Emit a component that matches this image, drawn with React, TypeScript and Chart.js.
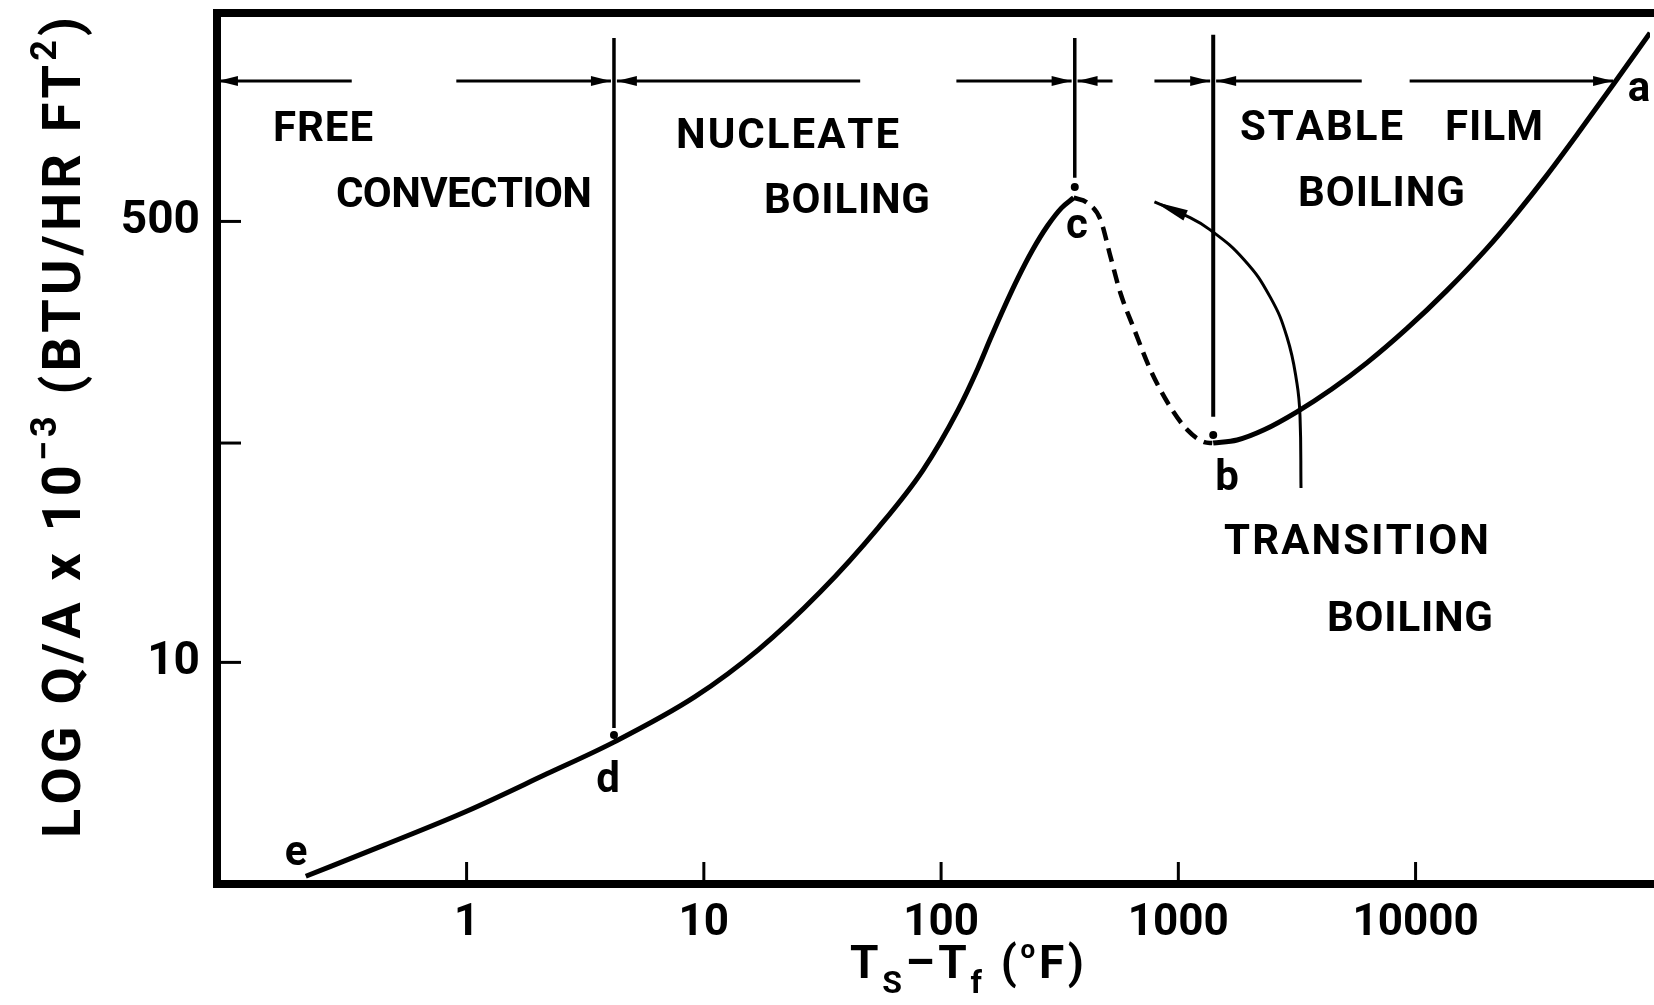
import React, { useEffect, useRef } from "react";
import { Chart, registerables } from "chart.js";

Chart.register(...registerables);

const FONT = "Roboto";

// Log axes: surface-to-fluid temperature difference and heat flux
const X_MIN = 0.0887;
const X_MAX = 97300;
const Y_MIN = 1.4;
const Y_MAX = 3177;

const X_TICKS = [1, 10, 100, 1000, 10000];
const X_TICK_LABELS = ["1", "10", "100", "1000", "10000"];
const Y_TICKS = [10, 70, 500];
const Y_TICK_LABELS = ["10", "", "500"];

// e -> d -> c : free convection and nucleate boiling
const NUCLEATE_X = [0.21, 0.451, 1.0, 2.18, 4.18, 9.15, 17.0, 31.0, 54.3, 83.9, 118, 143, 162, 184, 211, 243, 281, 322, 362];
const NUCLEATE_Y = [1.5, 1.98, 2.67, 3.72, 4.93, 7.36, 11.2, 18.7, 33.0, 55.1, 94.0, 136, 178, 232, 303, 388, 481, 564, 617];

// c -> b : unstable transition boiling
const TRANSITION_X = [362, 414, 470, 518, 570, 653, 763, 925, 1091, 1286, 1390];
const TRANSITION_Y = [617, 589, 507, 365, 265, 191, 134, 96.4, 78.7, 70.6, 70.0];

// b -> a : stable film boiling
const FILM_X = [1403, 1770, 2300, 3162, 4440, 6230, 9180, 13500, 19900, 26600, 35600, 48900, 68000, 97300];
const FILM_Y = [70.0, 71.9, 78.7, 92.3, 113, 142.5, 193, 270, 392, 535, 749, 1107, 1680, 2664];

// curved pointer from the TRANSITION BOILING label (first point is the arrow tip)
const ARC_X = [793, 1060, 1362, 1893, 2437, 2872, 3162, 3258, 3289];
const ARC_Y = [595, 530, 464, 356, 256, 179, 119, 88.3, 47.0];

// regime boundaries at d, c and b
const BOUNDARY_X = [4.18, 366, 1403];
const BOUNDARY_TOP = [2547, 2547, 2620];
const BOUNDARY_BOTTOM = [5.59, 736, 88.3];
const BOUNDARY_DOT_Y = [5.25, 679, 75.2];

// regime span arrows (arrow head at the "to" end)
const ARROW_Y = 1738;
const ARROW_FROM = [0.328, 0.905, 45.6, 116, 528, 793, 5930, 9440];
const ARROW_TO = [0.0895, 4.06, 4.3, 355, 376, 1362, 1443, 68000];

type Run = { text: string; size: number; shift: number };

function drawRuns(
  ctx: CanvasRenderingContext2D,
  runs: Run[],
  x: number,
  baseline: number,
  width: number | null,
  align: "left" | "center"
) {
  const items: { ch: string; size: number; shift: number; w: number }[] = [];
  for (const r of runs) {
    ctx.font = `bold ${r.size}px ${FONT}`;
    for (const ch of r.text) {
      items.push({ ch, size: r.size, shift: r.shift, w: ctx.measureText(ch).width });
    }
  }
  const natural = items.reduce((s, it) => s + it.w, 0);
  const total = width ?? natural;
  const gap = items.length > 1 ? (total - natural) / (items.length - 1) : 0;
  let cx = align === "center" ? x - total / 2 : x;
  ctx.textAlign = "left";
  ctx.textBaseline = "alphabetic";
  for (const it of items) {
    ctx.font = `bold ${it.size}px ${FONT}`;
    ctx.fillText(it.ch, cx, baseline + it.shift);
    cx += it.w + gap;
  }
}

function arrowHead(
  ctx: CanvasRenderingContext2D,
  tipX: number,
  tipY: number,
  fromX: number,
  fromY: number,
  len: number,
  half: number
) {
  const dx = tipX - fromX;
  const dy = tipY - fromY;
  const d = Math.hypot(dx, dy) || 1;
  const ux = dx / d;
  const uy = dy / d;
  const bx = tipX - ux * len;
  const by = tipY - uy * len;
  ctx.beginPath();
  ctx.moveTo(tipX, tipY);
  ctx.lineTo(bx - uy * half, by + ux * half);
  ctx.lineTo(bx + uy * half, by - ux * half);
  ctx.closePath();
  ctx.fill();
}

// region captions: text, left x, baseline, fitted width
const REGION_LABELS: [string, number, number, number][] = [
  ["FREE", 273, 141, 100],
  ["CONVECTION", 336, 207, 256],
  ["NUCLEATE", 676, 148, 223],
  ["BOILING", 764, 213, 166],
  ["STABLE", 1240, 140, 163],
  ["FILM", 1445, 140, 98],
  ["BOILING", 1298, 206, 167],
  ["TRANSITION", 1224, 554, 265],
  ["BOILING", 1327, 631, 166],
];

// point letters: text, centre x, baseline
const POINT_LABELS: [string, number, number][] = [
  ["e", 296, 865],
  ["d", 608, 792],
  ["c", 1077, 238],
  ["b", 1227, 490],
  ["a", 1639, 101],
];

const decorations = {
  id: "boilingDecorations",
  afterDatasetsDraw(chart: any) {
    const ctx: CanvasRenderingContext2D = chart.ctx;
    const xs = chart.scales.x;
    const ys = chart.scales.y;
    const { left, top, bottom, right } = chart.chartArea;
    ctx.save();
    ctx.fillStyle = "#000";
    ctx.strokeStyle = "#000";

    // arrow heads of the regime spans
    const ay = ys.getPixelForValue(ARROW_Y);
    ARROW_TO.forEach((to, i) => {
      const tx = xs.getPixelForValue(to);
      const fx = xs.getPixelForValue(ARROW_FROM[i]);
      arrowHead(ctx, tx, ay, fx, ay, 20, 5);
    });

    // arrow head on the transition pointer
    arrowHead(
      ctx,
      xs.getPixelForValue(ARC_X[0]),
      ys.getPixelForValue(ARC_Y[0]),
      xs.getPixelForValue(ARC_X[1]),
      ys.getPixelForValue(ARC_Y[1]),
      34,
      5.5
    );

    // captions
    for (const [t, x, b, w] of REGION_LABELS) {
      drawRuns(ctx, [{ text: t, size: 42, shift: 0 }], x, b, w, "left");
    }
    ctx.font = `bold 42px ${FONT}`;
    ctx.textAlign = "center";
    for (const [t, x, b] of POINT_LABELS) {
      ctx.fillText(t, x, b);
    }

    // inward tick marks
    ctx.lineWidth = 3;
    ctx.lineCap = "butt";
    for (const v of X_TICKS) {
      const px = xs.getPixelForValue(v);
      ctx.beginPath();
      ctx.moveTo(px, bottom);
      ctx.lineTo(px, bottom - 22);
      ctx.stroke();
    }
    for (const v of Y_TICKS) {
      const py = ys.getPixelForValue(v);
      ctx.beginPath();
      ctx.moveTo(left, py);
      ctx.lineTo(left + 24, py);
      ctx.stroke();
    }

    // heavy frame (open on the right, running off the page)
    ctx.lineWidth = 8;
    ctx.lineJoin = "miter";
    ctx.beginPath();
    ctx.moveTo(right + 20, top);
    ctx.lineTo(left, top);
    ctx.lineTo(left, bottom);
    ctx.lineTo(right + 20, bottom);
    ctx.stroke();

    // y axis title
    ctx.save();
    ctx.translate(80, 427.5);
    ctx.rotate(-Math.PI / 2);
    drawRuns(
      ctx,
      [
        { text: "LOG Q/A x 10", size: 54, shift: 0 },
        { text: "\u22123", size: 36, shift: -24 },
        { text: " (BTU/HR FT", size: 54, shift: 0 },
        { text: "2", size: 36, shift: -24 },
        { text: ")", size: 54, shift: 0 },
      ],
      0,
      0,
      821,
      "center"
    );
    ctx.restore();

    // x axis title
    drawRuns(
      ctx,
      [
        { text: "T", size: 46, shift: 0 },
        { text: "S", size: 32, shift: 15 },
        { text: "\u2013", size: 46, shift: 0 },
        { text: "T", size: 46, shift: 0 },
        { text: "f", size: 32, shift: 15 },
        { text: " (", size: 46, shift: 0 },
        { text: "o", size: 26, shift: -20 },
        { text: "F)", size: 46, shift: 0 },
      ],
      967,
      978,
      234,
      "center"
    );

    ctx.restore();
  },
};

const pts = (xs: number[], ys: number[]) => xs.map((x, i) => ({ x, y: ys[i] }));

export default function App() {
  const ref = useRef<HTMLCanvasElement | null>(null);

  useEffect(() => {
    if (!ref.current) return;
    const line = {
      showLine: true,
      pointRadius: 0,
      borderColor: "#000",
      backgroundColor: "#000",
      fill: false,
    };
    const datasets: any[] = [
      { ...line, data: pts(NUCLEATE_X, NUCLEATE_Y), borderWidth: 5, cubicInterpolationMode: "monotone" },
      {
        ...line,
        data: pts(TRANSITION_X, TRANSITION_Y),
        borderWidth: 4.5,
        borderDash: [14, 8],
        cubicInterpolationMode: "monotone",
      },
      { ...line, data: pts(FILM_X, FILM_Y), borderWidth: 5, cubicInterpolationMode: "monotone" },
      { ...line, data: pts(ARC_X, ARC_Y), borderWidth: 3, tension: 0.45 },
      ...BOUNDARY_X.map((x, i) => ({
        ...line,
        data: [
          { x, y: BOUNDARY_TOP[i] },
          { x, y: BOUNDARY_BOTTOM[i] },
        ],
        borderWidth: i === 2 ? 4 : 3.5,
        tension: 0,
      })),
      ...ARROW_FROM.map((f, i) => ({
        ...line,
        data: [
          { x: f, y: ARROW_Y },
          { x: ARROW_TO[i], y: ARROW_Y },
        ],
        borderWidth: 3,
        tension: 0,
      })),
      {
        data: BOUNDARY_X.map((x, i) => ({ x, y: BOUNDARY_DOT_Y[i] })),
        showLine: false,
        pointRadius: 4,
        pointBorderWidth: 0,
        pointBackgroundColor: "#000",
        pointBorderColor: "#000",
      },
    ];

    const chart = new Chart(ref.current, {
      type: "scatter",
      data: { datasets },
      options: {
        animation: false,
        responsive: false,
        devicePixelRatio: 1,
        events: [],
        layout: { padding: { top: 13, right: 0, left: 0, bottom: 0 } },
        plugins: { legend: { display: false }, tooltip: { enabled: false } },
        scales: {
          x: {
            type: "logarithmic",
            min: X_MIN,
            max: X_MAX,
            grid: { display: false, drawTicks: false },
            border: { display: false },
            afterBuildTicks: (s: any) => {
              s.ticks = X_TICKS.map((v) => ({ value: v }));
            },
            afterFit: (s: any) => {
              s.height = 121;
              s.paddingLeft = 0;
              s.paddingRight = 0;
            },
            ticks: {
              autoSkip: false,
              maxRotation: 0,
              padding: 14,
              color: "#000",
              font: { family: FONT, weight: "bold", size: 44 },
              callback: (v: any) => X_TICK_LABELS[X_TICKS.indexOf(Number(v))] ?? "",
            },
          },
          y: {
            type: "logarithmic",
            min: Y_MIN,
            max: Y_MAX,
            grid: { display: false, drawTicks: false },
            border: { display: false },
            afterBuildTicks: (s: any) => {
              s.ticks = Y_TICKS.map((v) => ({ value: v }));
            },
            afterFit: (s: any) => {
              s.width = 217;
              s.paddingTop = 0;
              s.paddingBottom = 0;
            },
            ticks: {
              autoSkip: false,
              padding: 17,
              color: "#000",
              font: { family: FONT, weight: "bold", size: 46 },
              callback: (v: any) => Y_TICK_LABELS[Y_TICKS.indexOf(Number(v))] ?? "",
            },
          },
        },
      },
      plugins: [decorations],
    });
    return () => chart.destroy();
  }, []);

  return (
    <div style={{ position: "absolute", left: 0, top: 0, width: 1654, height: 1005, background: "#fff" }}>
      <canvas ref={ref} width={1654} height={1005} style={{ width: 1654, height: 1005, display: "block" }} />
    </div>
  );
}
